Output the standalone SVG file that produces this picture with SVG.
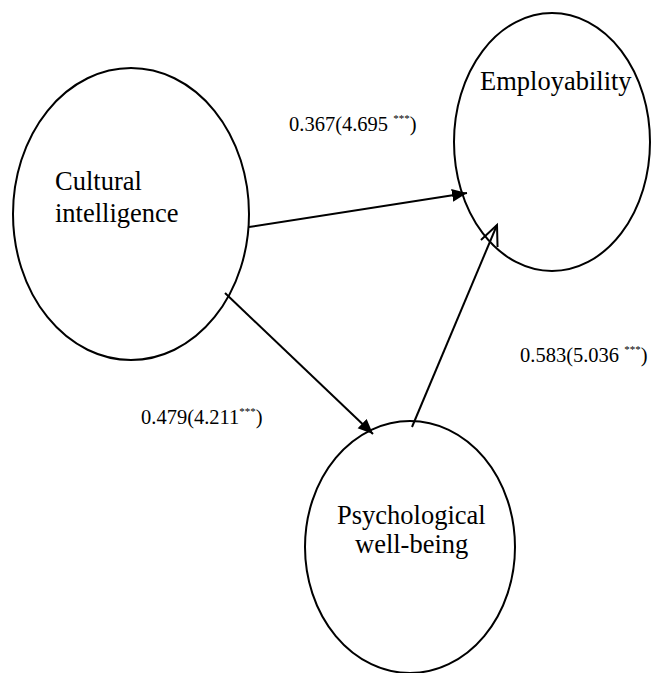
<svg xmlns="http://www.w3.org/2000/svg" width="651" height="673" viewBox="0 0 651 673">
<defs>
<style>
.node{fill:#fff;stroke:#000;stroke-width:2}
.lbl{font-family:"Liberation Serif","Times New Roman",serif;fill:#000}
.nt{font-size:26.5px}
.et{font-size:20.5px}
.sup{font-size:11px}
.edge{stroke:#000;stroke-width:2;fill:none}
</style>
<marker id="fill" markerUnits="userSpaceOnUse" markerWidth="16" markerHeight="14" refX="15" refY="6.5" orient="auto">
<path d="M0,0 L15,6.5 L0,13 z" fill="#000"/>
</marker>
<marker id="open" markerUnits="userSpaceOnUse" markerWidth="24" markerHeight="22" refX="21" refY="10" orient="auto">
<path d="M1,1 L21,10 L1,19" fill="none" stroke="#000" stroke-width="2"/>
</marker>
</defs>
<rect width="651" height="673" fill="#fff"/>
<g id="node-employability">
<ellipse class="node" cx="552" cy="142" rx="98" ry="129"/>
<text class="lbl nt" x="480" y="90">Employability</text>
</g>
<g id="node-cultural">
<ellipse class="node" cx="131" cy="214" rx="118" ry="146"/>
<text class="lbl nt" x="55" y="190">Cultural</text>
<text class="lbl nt" x="55" y="222">intelligence</text>
</g>
<g id="node-psych">
<ellipse class="node" cx="410" cy="547" rx="105" ry="126"/>
<text class="lbl nt" x="337" y="524">Psychological</text>
<text class="lbl nt" x="355" y="553">well-being</text>
</g>
<g id="connectors">
<line class="edge" x1="249" y1="227" x2="467" y2="193" marker-end="url(#fill)"/>
<line class="edge" x1="225" y1="293" x2="373" y2="434" marker-end="url(#fill)"/>
<line class="edge" x1="412" y1="427" x2="497" y2="225" marker-end="url(#open)"/>
</g>
<g id="edge-labels">
<text class="lbl et" x="289" y="131">0.367(4.695 <tspan class="sup" dy="-9">***</tspan><tspan dy="9">)</tspan></text>
<text class="lbl et" x="520" y="362">0.583(5.036 <tspan class="sup" dy="-9">***</tspan><tspan dy="9">)</tspan></text>
<text class="lbl et" x="141" y="424">0.479(4.211<tspan class="sup" dy="-9">***</tspan><tspan dy="9">)</tspan></text>
</g>
</svg>
